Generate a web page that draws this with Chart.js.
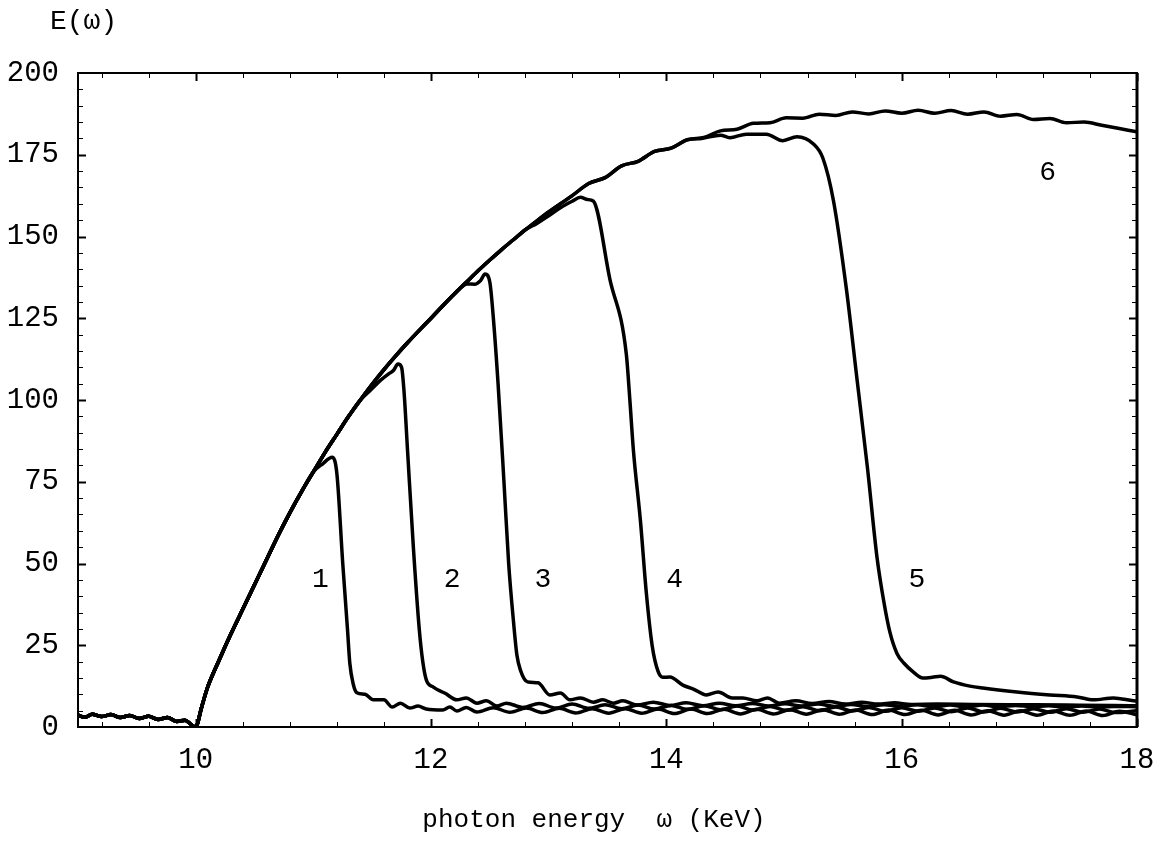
<!DOCTYPE html>
<html>
<head>
<meta charset="utf-8">
<script src="https://cdn.jsdelivr.net/npm/chart.js@4.4.0/dist/chart.umd.min.js"></script>
<style>
  html, body { margin: 0; padding: 0; background: #fff; }
</style>
</head>
<body>
<canvas id="chart" width="1167" height="867"></canvas>
<script>
// axis ticks
const xTicks = [10, 12, 14, 16, 18];
const yTicks = [0, 25, 50, 75, 100, 125, 150, 175, 200];

// shared part: noise below threshold and the rise up to 11 KeV
const rise = [
  [9.0, 3.6], [9.06, 3.0], [9.12, 3.9], [9.2, 3.2], [9.28, 3.8], [9.36, 2.9], [9.44, 3.5],
  [9.52, 2.6], [9.6, 3.3], [9.68, 2.3], [9.76, 2.9], [9.84, 1.7], [9.91, 2.1], [9.96, 0.8],
  [10.0, 0], [10.05, 6], [10.1, 12], [10.2, 20.5], [10.3, 28.5], [10.4, 36], [10.5, 43.5],
  [10.6, 51], [10.7, 58.5], [10.8, 65.5], [10.9, 72], [11.0, 78]
];

// upper envelope (curve 6 after 11 KeV)
const upper = [
  [11.1, 84], [11.2, 89.5], [11.3, 95], [11.4, 100], [11.5, 104.8], [11.6, 109.3],
  [11.7, 113.5], [11.8, 117.5], [11.9, 121.3], [12.0, 125], [12.1, 128.8], [12.2, 132.5],
  [12.3, 136], [12.4, 139.5], [12.5, 142.8], [12.6, 146], [12.7, 149], [12.8, 152],
  [12.9, 154.8], [13.0, 157.5], [13.1, 160], [13.2, 162.5], [13.34, 166.2], [13.48, 168.0],
  [13.62, 171.6], [13.76, 173.0], [13.9, 176.0], [14.04, 177.0], [14.18, 179.6], [14.32, 180.3],
  [14.46, 182.3], [14.6, 182.8], [14.74, 184.6], [14.88, 184.8], [15.02, 186.3], [15.16, 186.2],
  [15.3, 187.4], [15.44, 187.0], [15.58, 188.1], [15.72, 187.5], [15.86, 188.4], [16.0, 187.7],
  [16.14, 188.6], [16.28, 187.7], [16.42, 188.5], [16.56, 187.4], [16.7, 188.1], [16.84, 186.8],
  [16.98, 187.3], [17.12, 185.8], [17.26, 186.1], [17.4, 184.8], [17.55, 185.0], [17.7, 184.0],
  [17.85, 183.0], [18.0, 182.0]
];

// curve 1
const drop1 = [
  [11.08, 80.5], [11.16, 82.5], [11.2, 77.5], [11.25, 50], [11.29, 30], [11.31, 19.5],
  [11.34, 13], [11.37, 10.5], [11.44, 10], [11.51, 8.3], [11.6, 8.3], [11.67, 6.1],
  [11.74, 7.3], [11.82, 5.8], [11.89, 6.4], [11.96, 5.5], [12.1, 5.2], [12.16, 6.1],
  [12.22, 4.9], [12.3, 6.0], [12.39, 4.6], [12.53, 5.9], [12.67, 4.5], [12.81, 5.8],
  [12.95, 4.4], [13.09, 5.7], [13.23, 4.3], [13.37, 5.6], [13.51, 4.2], [13.65, 5.6],
  [13.79, 4.2], [13.93, 5.5], [14.07, 4.1], [14.21, 5.5], [14.35, 4.1], [14.49, 5.4],
  [14.63, 4.0], [14.77, 5.4], [14.91, 4.0], [15.05, 5.3], [15.19, 3.9], [15.33, 5.3],
  [15.47, 3.9], [15.61, 5.2], [15.75, 3.8], [15.89, 5.2], [16.03, 3.8], [16.17, 5.1],
  [16.31, 3.7], [16.45, 5.1], [16.59, 3.7], [16.73, 5.0], [16.87, 3.6], [17.01, 5.0],
  [17.15, 3.6], [17.29, 4.9], [17.43, 3.6], [17.57, 4.9], [17.71, 3.5], [17.85, 4.8],
  [18.0, 3.7]
];

// curve 2
const drop2 = [
  [11.5, 103.5], [11.57, 106], [11.64, 108], [11.68, 109], [11.72, 111], [11.75, 110],
  [11.77, 103], [11.8, 85], [11.85, 55], [11.9, 30], [11.93, 20], [11.96, 14.4],
  [12.02, 12.2], [12.12, 10.3], [12.22, 8.3], [12.3, 8.9], [12.39, 7.3], [12.47, 8],
  [12.56, 6.4], [12.64, 7.3], [12.78, 6.0], [12.92, 7.2], [13.06, 5.8], [13.2, 7.0],
  [13.34, 5.7], [13.48, 6.8], [13.62, 5.6], [13.76, 6.7], [13.9, 5.5], [14.04, 6.6],
  [14.18, 5.4], [14.32, 6.5], [14.46, 5.3], [14.6, 6.4], [14.74, 5.2], [14.88, 6.3],
  [15.02, 5.1], [15.16, 6.2], [15.3, 5.0], [15.44, 6.1], [15.58, 4.9], [15.72, 6.0],
  [15.86, 4.8], [16.0, 5.9], [16.14, 4.8], [16.28, 5.8], [16.42, 4.7], [16.56, 5.8],
  [16.7, 4.6], [16.84, 5.7], [16.98, 4.6], [17.12, 5.6], [17.26, 4.5], [17.4, 5.6],
  [17.54, 4.5], [17.68, 5.5], [17.82, 4.4], [18.0, 5.0]
];

// curve 3
const drop3 = [
  [12.31, 135.5], [12.37, 135.4], [12.42, 136.5], [12.46, 138.5], [12.5, 136], [12.53, 125],
  [12.57, 105], [12.62, 75], [12.66, 50], [12.7, 32.7], [12.73, 22], [12.76, 17.4],
  [12.82, 13.8], [12.91, 13.5], [13.01, 9.8], [13.1, 10.4], [13.18, 8.3], [13.27, 8.9],
  [13.38, 7.6], [13.46, 8.3], [13.55, 7.3], [13.63, 8.0], [13.75, 6.7], [13.89, 7.6],
  [14.03, 6.6], [14.17, 7.4], [14.31, 6.5], [14.45, 7.3], [14.59, 6.5], [14.73, 7.2],
  [14.87, 6.4], [15.01, 7.1], [15.15, 6.4], [15.29, 7.0], [15.43, 6.3], [15.57, 6.9],
  [15.71, 6.3], [15.85, 6.8], [15.99, 6.3], [16.13, 6.8], [16.27, 6.2], [16.41, 6.7],
  [16.55, 6.2], [16.69, 6.7], [16.83, 6.2], [16.97, 6.6], [17.11, 6.2], [17.25, 6.5],
  [17.39, 6.1], [17.53, 6.4], [17.67, 6.1], [17.81, 6.3], [18.0, 6.2]
];

// curve 4
const drop4 = [
  [12.9, 154], [13.0, 156.3], [13.1, 158.8], [13.2, 160.8], [13.27, 162], [13.33, 161.3],
  [13.38, 160.8], [13.52, 137], [13.66, 114], [13.69, 100], [13.72, 84.7], [13.78, 63],
  [13.83, 41], [13.88, 24.8], [13.93, 17], [13.97, 15.2], [14.03, 15.3], [14.14, 12.8],
  [14.23, 11.6], [14.34, 9.8], [14.44, 10.7], [14.56, 8.9], [14.65, 8.9], [14.77, 8.0],
  [14.86, 8.9], [14.96, 7.3], [15.1, 8.0], [15.24, 7.2], [15.38, 7.8], [15.52, 7.0],
  [15.66, 7.6], [15.8, 7.0], [15.94, 7.4], [16.08, 6.9], [16.3, 7.0], [16.6, 6.9],
  [17.0, 6.8], [17.4, 6.7], [17.8, 6.6], [18.0, 6.5]
];

// curve 5
const drop5 = [
  [14.3, 180], [14.46, 181], [14.54, 180.2], [14.68, 181.3], [14.85, 181.3], [14.99, 179.3],
  [15.11, 180.5], [15.25, 178.3], [15.33, 174], [15.42, 161], [15.53, 134], [15.62, 106.5],
  [15.71, 79], [15.79, 52], [15.85, 38], [15.9, 29], [15.96, 22.5], [16.02, 19.5],
  [16.1, 16.8], [16.18, 15], [16.26, 15.2], [16.33, 15.5], [16.44, 13.8], [16.58, 12.5],
  [16.69, 11.9], [16.98, 10.7], [17.26, 9.8], [17.49, 9.2], [17.63, 8.3], [17.8, 8.9],
  [17.97, 8.0], [18.0, 7.9]
];

// curve labels
const curveNames = ['1', '2', '3', '4', '5', '6'];
const labelX = [11.06, 12.18, 12.95, 14.07, 16.13, 17.24];
const labelY = [45, 45, 45, 45, 45, 169.5];

const FONT = '"Liberation Mono", "DejaVu Sans Mono", monospace';

const curves = [
  rise.concat(drop1),
  rise.concat(upper.filter(p => p[0] <= 11.4), drop2),
  rise.concat(upper.filter(p => p[0] <= 12.2), drop3),
  rise.concat(upper.filter(p => p[0] <= 12.8), drop4),
  rise.concat(upper.filter(p => p[0] <= 14.18), drop5),
  rise.concat(upper)
];

// frame, inward ticks on all four sides, labels
const framePlugin = {
  id: 'frame',
  afterDraw(chart) {
    const { ctx, chartArea: a, scales: { x, y } } = chart;
    ctx.save();
    ctx.strokeStyle = '#000';
    ctx.fillStyle = '#000';

    ctx.lineWidth = 2;
    ctx.strokeRect(a.left, a.top, a.right - a.left, a.bottom - a.top);
    ctx.lineWidth = 3;
    ctx.beginPath();
    ctx.moveTo(a.right, a.top);
    ctx.lineTo(a.right, a.bottom);
    ctx.stroke();

    // x ticks, majors every 2, minors every 0.4
    for (let i = 0; i <= 22; i++) {
      const v = 9.2 + i * 0.4;
      if (v > 18.01) break;
      const major = Math.abs(v / 2 - Math.round(v / 2)) < 1e-6;
      const len = major ? 8 : 5;
      const px = Math.round(x.getPixelForValue(v)) + 0.5;
      ctx.lineWidth = major ? 2 : 1;
      ctx.beginPath();
      ctx.moveTo(px, a.bottom); ctx.lineTo(px, a.bottom - len);
      ctx.moveTo(px, a.top); ctx.lineTo(px, a.top + len);
      ctx.stroke();
    }
    // y ticks, majors every 25, minors every 5
    for (let v = 5; v < 200; v += 5) {
      const major = v % 25 === 0;
      const len = major ? 8 : 5;
      const py = Math.round(y.getPixelForValue(v)) + 0.5;
      ctx.lineWidth = major ? 2 : 1;
      ctx.beginPath();
      ctx.moveTo(a.left, py); ctx.lineTo(a.left + len, py);
      ctx.moveTo(a.right, py); ctx.lineTo(a.right - len, py);
      ctx.stroke();
    }

    // curve numbers
    ctx.font = '28px ' + FONT;
    ctx.textAlign = 'center';
    ctx.textBaseline = 'middle';
    curveNames.forEach((n, i) => {
      ctx.fillText(n, x.getPixelForValue(labelX[i]), y.getPixelForValue(labelY[i]));
    });

    // axis titles
    ctx.textAlign = 'left';
    ctx.fillText('E(\u03c9)', 50, 22);
    ctx.font = '26px ' + FONT;
    ctx.textAlign = 'center';
    ctx.fillText('photon energy  \u03c9 (KeV)', 594, 820);
    ctx.restore();
  }
};

new Chart(document.getElementById('chart'), {
  type: 'line',
  data: {
    datasets: curves.map((c, i) => ({
      label: curveNames[i],
      data: c.map(p => ({ x: p[0], y: p[1] })),
      borderColor: '#000',
      borderWidth: 3.5,
      pointRadius: 0,
      cubicInterpolationMode: 'monotone',
      fill: false
    }))
  },
  options: {
    responsive: false,
    animation: false,
    layout: { padding: { left: 0, right: 30, top: 73, bottom: 0 } },
    plugins: {
      legend: { display: false },
      tooltip: { enabled: false }
    },
    scales: {
      x: {
        type: 'linear',
        min: 9,
        max: 18,
        grid: { display: false },
        border: { display: false },
        afterBuildTicks: s => { s.ticks = xTicks.map(v => ({ value: v })); },
        afterFit: s => { s.height = 140; },
        ticks: {
          color: '#000',
          padding: 8,
          maxRotation: 0,
          autoSkip: false,
          font: { family: FONT, size: 29 }
        }
      },
      y: {
        type: 'linear',
        min: 0,
        max: 200,
        grid: { display: false },
        border: { display: false },
        afterBuildTicks: s => { s.ticks = yTicks.map(v => ({ value: v })); },
        afterFit: s => { s.width = 78; },
        ticks: {
          color: '#000',
          padding: 11,
          autoSkip: false,
          font: { family: FONT, size: 29 }
        }
      }
    }
  },
  plugins: [framePlugin]
});
</script>
</body>
</html>
